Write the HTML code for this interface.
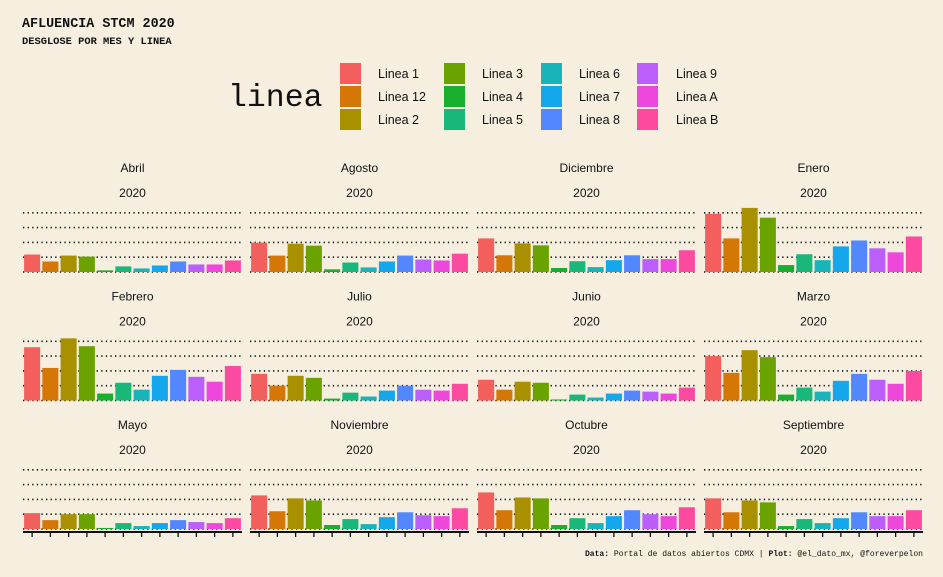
<!DOCTYPE html>
<html><head><meta charset="utf-8"><style>
html,body{margin:0;padding:0;background:#f6efe0;}
svg{display:block;}
</style></head><body>
<svg id="chart" width="943" height="577" xmlns="http://www.w3.org/2000/svg">
<rect width="943" height="577" fill="#f6efe0"/>
<text x="22" y="27" font-family="Liberation Mono, monospace" font-weight="bold" font-size="13.4" fill="#111">AFLUENCIA STCM 2020</text>
<text x="22" y="44" font-family="Liberation Mono, monospace" font-weight="bold" font-size="10.4" fill="#111">DESGLOSE POR MES Y LINEA</text>
<text x="228" y="106" font-family="Liberation Mono, monospace" font-size="31.5" fill="#111">linea</text>
<g id="legend"></g>
<g id="panels"></g>
<text x="923" y="556" text-anchor="end" font-family="Liberation Mono, monospace" font-size="8.05" fill="#111"><tspan font-weight="bold">Data:</tspan> Portal de datos abiertos CDMX | <tspan font-weight="bold">Plot:</tspan> @el_dato_mx, @foreverpelon</text>
</svg>
<script>
const lines = ["Linea 1","Linea 12","Linea 2","Linea 3","Linea 4","Linea 5","Linea 6","Linea 7","Linea 8","Linea 9","Linea A","Linea B"];
const colors = ["#f35f5c","#d47706","#a89000","#6aa300","#19af2e","#19b77a","#19b4ba","#14a7eb","#5387ff","#bb5efb","#ee47dc","#fb4aa0"];
const months = ["Abril","Agosto","Diciembre","Enero","Febrero","Julio","Junio","Marzo","Mayo","Noviembre","Octubre","Septiembre"];
const abril = [1.18,0.71,1.11,1.04,0.11,0.38,0.24,0.44,0.71,0.51,0.51,0.78];
const agosto = [1.98,1.11,1.91,1.78,0.18,0.64,0.31,0.71,1.11,0.84,0.78,1.24];
const diciembre = [2.27,1.13,1.93,1.8,0.27,0.73,0.33,0.8,1.13,0.87,0.87,1.47];
const enero = [3.93,2.27,4.33,3.67,0.47,1.2,0.8,1.73,2.13,1.6,1.33,2.4];
const febrero = [3.6,2.2,4.2,3.67,0.47,1.2,0.73,1.67,2.07,1.6,1.27,2.33];
const julio = [1.8,1.0,1.67,1.53,0.13,0.53,0.27,0.67,1.0,0.73,0.67,1.13];
const junio = [1.4,0.73,1.27,1.2,0.07,0.4,0.2,0.47,0.67,0.6,0.47,0.87];
const marzo = [3.0,1.87,3.4,2.93,0.4,0.87,0.6,1.33,1.8,1.4,1.13,2.0];
const mayo = [1.07,0.6,1.0,1.0,0.07,0.4,0.2,0.4,0.6,0.47,0.4,0.73];
const noviembre = [2.27,1.2,2.07,1.93,0.27,0.67,0.33,0.8,1.13,0.93,0.87,1.4];
const octubre = [2.47,1.27,2.13,2.07,0.27,0.73,0.4,0.87,1.27,1.0,0.87,1.47];
const septiembre = [2.07,1.13,1.93,1.8,0.2,0.67,0.4,0.73,1.13,0.87,0.87,1.27];
const yTicks = [0,1,2,3,4];
const series = [abril,agosto,diciembre,enero,febrero,julio,junio,marzo,mayo,noviembre,octubre,septiembre];

const NS="http://www.w3.org/2000/svg";
function mk(tag,attrs,parent){const e=document.createElementNS(NS,tag);for(const k in attrs)e.setAttribute(k,attrs[k]);parent.appendChild(e);return e;}

const lg=document.getElementById('legend');
lines.forEach((name,i)=>{
  const col=Math.floor(i/3), row=i%3;
  const kx=[340,444,541,637][col], lx=[378,482,579,676][col];
  const y=63+row*23;
  const r=mk('rect',{x:kx,y:y,width:21,height:21,fill:colors[i]},lg);
  
  
  const t=mk('text',{x:lx,y:y+15,'font-family':'Liberation Sans, sans-serif','font-size':'12.5',fill:'#111'},lg);
  t.textContent=name;
  
  
});

const pg=document.getElementById('panels');
const panelX=[23,250,477,704], panelW=219;
const baseY=[272,400.5,529];
const step=14.8;
function yScale(v,r){return baseY[r]-v*step;}
function xBand(i,px){const bw=panelW/12;return px+i*bw;}
months.forEach((m,mi)=>{
  const r=Math.floor(mi/4), c=mi%4, px=panelX[c];
  const g=mk('g',{},pg);
  
  
  const t1=mk('text',{x:px+panelW/2,y:baseY[r]-100,'text-anchor':'middle','font-family':'Liberation Sans, sans-serif','font-size':'12',fill:'#111'},g);
  t1.textContent=m;
  
  
  const t2=mk('text',{x:px+panelW/2,y:baseY[r]-75,'text-anchor':'middle','font-family':'Liberation Sans, sans-serif','font-size':'12',fill:'#111'},g);
  t2.textContent='2020';
  
  
  yTicks.forEach(v=>{
    const y=yScale(v,r);
    const l=mk('line',{x1:px,x2:px+panelW,y1:y,y2:y,stroke:'#111','stroke-width':1.6,'stroke-dasharray':'1.3 3.3'},g);
    
    
  });
  const bw=panelW/12;
  series[mi].forEach((v,i)=>{
    const x=xBand(i,px)+bw*0.06, y=yScale(v,r);
    const b=mk('rect',{x:x,y:y,width:bw*0.88,height:baseY[r]-y,fill:colors[i]},g);
    
    
  });
  if(r===2){
    const ax=mk('line',{x1:px,x2:px+panelW,y1:532,y2:532,stroke:'#111','stroke-width':2},g);
    
    
    lines.forEach((n,i)=>{
      const cx=xBand(i,px)+bw/2;
      const tk=mk('line',{x1:cx,x2:cx,y1:532,y2:537,stroke:'#111','stroke-width':1.3},g);
      
      
    });
  }
});
</script>
</body></html>
